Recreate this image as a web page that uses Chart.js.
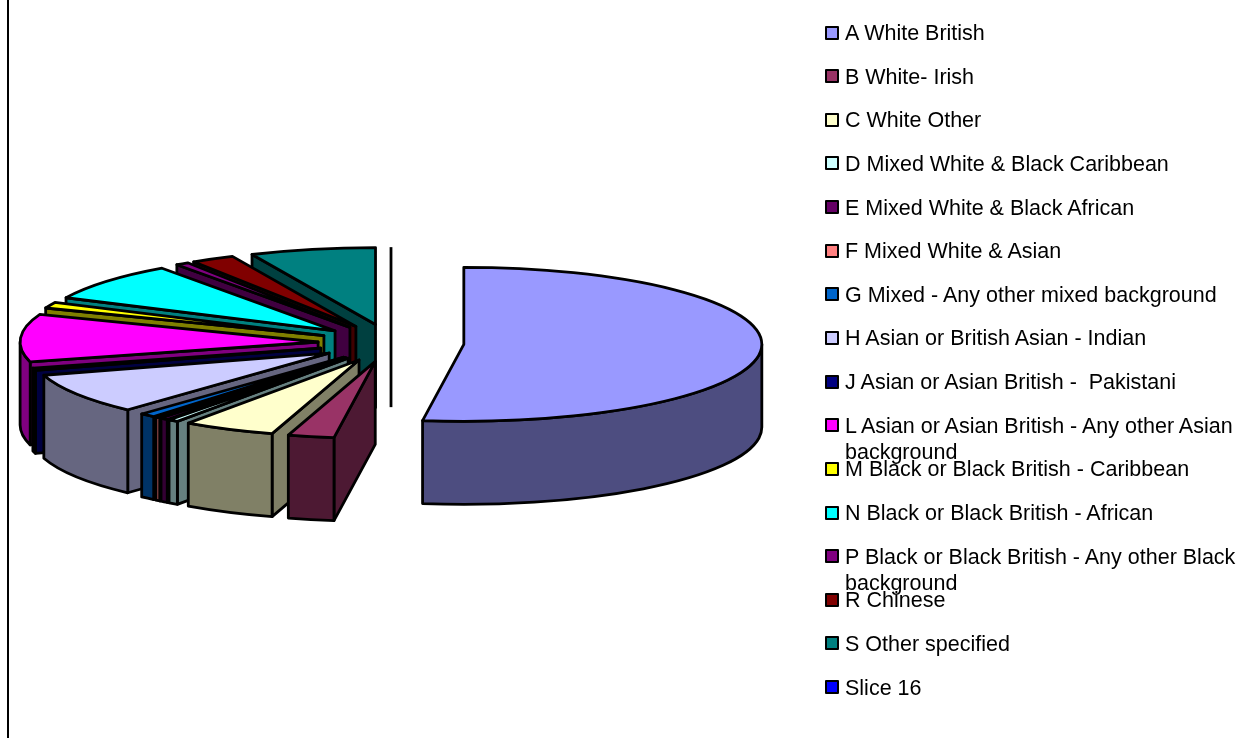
<!DOCTYPE html>
<html>
<head>
<meta charset="utf-8">
<script src="https://cdn.jsdelivr.net/npm/chart.js@4"></script>
<style>
  html, body { margin: 0; padding: 0; background: #fff; overflow: hidden; }
  #wrap { position: relative; width: 1254px; height: 740px; }
  #pie { position: absolute; left: 0; top: 0; }
  #axis-line { position: absolute; left: 7px; top: 0; width: 2px; height: 738px; background: #000; }
  .lg-row { position: absolute; left: 825px; width: 420px; font: 21.5px/26px "Liberation Sans", Arial, sans-serif; color: #000; white-space: pre-wrap; }
  .lg-box { position: absolute; left: 0; top: 5.5px; width: 10px; height: 10px; border: 2.5px solid #000; border-radius: 1px; }
  .lg-text { display: block; margin-left: 20px; width: 396px; }
</style>
</head>
<body>
<div id="wrap">
  <canvas id="pie" width="1254" height="740"></canvas>
  <div id="axis-line"></div>
  <div id="legend"></div>
</div>
<script>
// share of each group
const categories = [
  "A White British", "B White- Irish", "C White Other",
  "D Mixed White & Black Caribbean", "E Mixed White & Black African",
  "F Mixed White & Asian", "G Mixed - Any other mixed background",
  "H Asian or British Asian - Indian", "J Asian or Asian British -  Pakistani",
  "L Asian or Asian British - Any other Asian background",
  "M Black or Black British - Caribbean", "N Black or Black British - African",
  "P Black or Black British - Any other Black background",
  "R Chinese", "S Other specified", "Slice 16"
];
const shares = [52.2, 2.5, 5, 0.55, 0.42, 0.28, 0.85, 8.53, 0.5, 9.98, 1.25, 8.06, 0.7, 2.36, 6.8, 0];
const colors = [
  "#9999FF", "#993366", "#FFFFCC", "#CCFFFF", "#660066", "#FF8080", "#0066CC", "#CCCCFF",
  "#000080", "#FF00FF", "#FFFF00", "#00FFFF", "#800080", "#800000", "#008080", "#0000FF"
];
const wallColors = [
  "#4D4D80", "#4D1933", "#808066", "#668080", "#330033", "#804040", "#003366", "#666680",
  "#000040", "#800080", "#808000", "#008080", "#400040", "#400000", "#004040", "#000080"
];

const SQUASH  = 77 / 298; // height / width of the tilted top face
const DEPTH   = 83;       // wall height
const EXPLODE = 73;       // how far every slice is pulled from the centre

// Pie drawn as a tilted, extruded one: walls first, then the library's own arc
// for the top face. Arcs go back to front so nearer slices cover farther ones.
class Pie3DController extends Chart.PieController {
  draw() {
    const ctx  = this.chart.ctx;
    const arcs = this.getMeta().data.map((arc, i) => ({ arc, i }));
    const midOf = a => (a.arc.startAngle + a.arc.endAngle) / 2;
    arcs.sort((a, b) => Math.sin(midOf(a)) - Math.sin(midOf(b)));

    arcs.forEach(({ arc, i }) => {
      const mid = (arc.startAngle + arc.endAngle) / 2;
      const ax = arc.x + Math.cos(mid) * EXPLODE;
      const ay = arc.y + Math.sin(mid) * EXPLODE * SQUASH;
      const rx = arc.outerRadius;
      const ry = rx * SQUASH;
      const rimX = t => ax + rx * Math.cos(t);
      const rimY = t => ay + ry * Math.sin(t);

      ctx.save();
      ctx.lineWidth = 2.8;
      ctx.lineJoin = "round";
      ctx.strokeStyle = "#000";

      // zero-size slice only shows up as an edge line
      if (arc.endAngle - arc.startAngle < 1e-6) {
        ctx.beginPath();
        ctx.moveTo(rimX(mid), rimY(mid));
        ctx.lineTo(ax, ay);
        ctx.lineTo(ax, ay + DEPTH);
        ctx.stroke();
        ctx.restore();
        return;
      }

      ctx.fillStyle = wallColors[i];
      const face = t => {
        ctx.beginPath();
        ctx.moveTo(ax, ay);
        ctx.lineTo(rimX(t), rimY(t));
        ctx.lineTo(rimX(t), rimY(t) + DEPTH);
        ctx.lineTo(ax, ay + DEPTH);
        ctx.closePath();
        ctx.fill();
        ctx.stroke();
      };
      // cut faces that turn towards the viewer
      if (Math.cos(arc.startAngle) < -1e-9) face(arc.startAngle);
      if (Math.cos(arc.endAngle) > 1e-9) face(arc.endAngle);

      // outer wall, front half only
      const lo = Math.max(arc.startAngle, 0);
      const hi = Math.min(arc.endAngle, Math.PI);
      if (hi > lo) {
        ctx.beginPath();
        ctx.ellipse(ax, ay, rx, ry, 0, lo, hi);
        ctx.lineTo(rimX(hi), rimY(hi) + DEPTH);
        ctx.ellipse(ax, ay + DEPTH, rx, ry, 0, hi, lo, true);
        ctx.closePath();
        ctx.fill();
        ctx.stroke();
      }

      // top face, filled by the arc element through a squashed canvas
      ctx.save();
      ctx.translate(ax, ay);
      ctx.scale(1, SQUASH);
      ctx.translate(-arc.x, -arc.y);
      arc.draw(ctx);
      ctx.restore();

      ctx.beginPath();
      ctx.moveTo(ax, ay);
      ctx.ellipse(ax, ay, rx, ry, 0, arc.startAngle, arc.endAngle);
      ctx.closePath();
      ctx.stroke();
      ctx.restore();
    });
  }
}
Pie3DController.id = "pie3d";
Pie3DController.defaults = Chart.PieController.defaults;
Chart.register(Pie3DController);

new Chart(document.getElementById("pie"), {
  type: "pie3d",
  data: {
    labels: categories,
    datasets: [{
      data: shares,
      backgroundColor: colors,
      borderWidth: 0,
      radius: 298,
      clip: false
    }]
  },
  options: {
    responsive: false,
    animation: false,
    layout: { padding: { left: 0, top: 0, right: 472, bottom: 54 } },
    plugins: { legend: { display: false }, tooltip: { enabled: false } }
  }
});

// legend rows sit on an even pitch even when a label wraps, as in the original
const legend = document.getElementById("legend");
categories.forEach((name, i) => {
  const row = document.createElement("div");
  row.className = "lg-row";
  row.style.top = (20 + i * 43.64) + "px";
  row.innerHTML = `<span class="lg-box" style="background:${colors[i]}"></span><span class="lg-text"></span>`;
  row.querySelector(".lg-text").textContent = name;
  legend.appendChild(row);
});
</script>
</body>
</html>
